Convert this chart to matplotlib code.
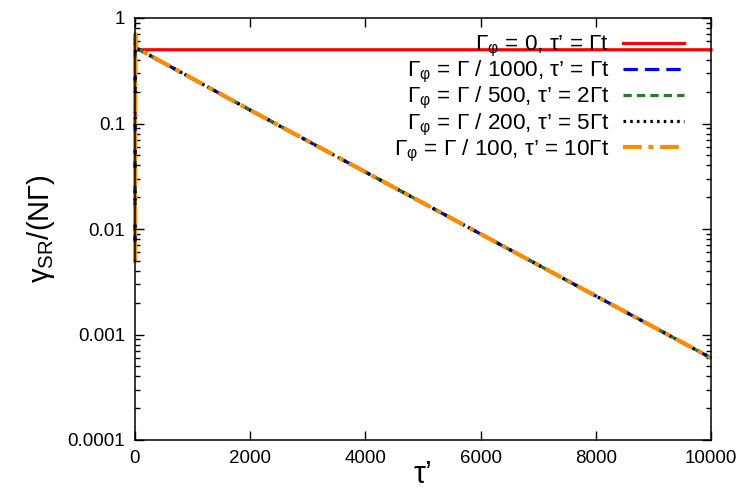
import matplotlib
matplotlib.use('Agg')
import matplotlib.pyplot as plt
from matplotlib.ticker import LogLocator, NullLocator, FixedLocator, FixedFormatter, NullFormatter

plt.rcParams['font.family'] = ['Liberation Sans', 'DejaVu Sans']
plt.rcParams['mathtext.fontset'] = 'custom'
plt.rcParams['mathtext.rm'] = 'Liberation Sans'
plt.rcParams['mathtext.it'] = 'Liberation Sans'
plt.rcParams['mathtext.default'] = 'regular'

# ---- data ----
tau_red = [0, 5, 20, 10000]
gamma_red = [0.005, 0.7, 0.5, 0.5]

tau_decay = [0, 5, 20, 2000, 4000, 6000, 8000, 10000]
gamma_blue = [0.005, 0.7, 0.52, 0.134, 0.0347, 0.00897, 0.00232, 0.0006]
gamma_green = [0.005, 0.7, 0.52, 0.134, 0.0347, 0.00897, 0.00232, 0.0006]
gamma_black = [0.005, 0.7, 0.52, 0.134, 0.0347, 0.00897, 0.00232, 0.0006]
gamma_orange = [0.005, 0.7, 0.52, 0.134, 0.0347, 0.00897, 0.00232, 0.0006]

labels = [
    "Γ$_{φ}$ = 0, τ’ = Γt",
    "Γ$_{φ}$ = Γ / 1000, τ’ = Γt",
    "Γ$_{φ}$ = Γ / 500, τ’ = 2Γt",
    "Γ$_{φ}$ = Γ / 200, τ’ = 5Γt",
    "Γ$_{φ}$ = Γ / 100, τ’ = 10Γt",
]
xticks = [0, 2000, 4000, 6000, 8000, 10000]
yticks = [0.0001, 0.001, 0.01, 0.1, 1]
yticklabels = ["0.0001", "0.001", "0.01", "0.1", "1"]

# ---- figure ----
fig = plt.figure(figsize=(7.47, 4.96), dpi=100)
ax = fig.add_axes([135/747, 1-440/496, (711-135)/747, (440-18)/496])

ax.plot(tau_red, gamma_red, color='#ff0000', lw=2.3, ls='-', label=labels[0], clip_on=False)
ax.plot(tau_decay, gamma_blue, color='#0000ff', lw=2.3, ls=(0, (4.5, 2.2)), label=labels[1], clip_on=False)
ax.plot(tau_decay, gamma_green, color='#2b7a2b', lw=2.3, ls=(0, (2.6, 1.6)), label=labels[2], clip_on=False)
ax.plot(tau_decay, gamma_black, color='#000000', lw=2.3, ls=(0, (0.8, 1.3)), label=labels[3], clip_on=False)
ax.plot(tau_decay, gamma_orange, color='#ff8c00', lw=3.0, ls=(0, (4.5, 1.6, 1.2, 1.6)), label=labels[4], clip_on=False)

ax.set_yscale('log')
ax.set_xlim(0, 10000)
ax.set_ylim(1e-4, 1)

ax.xaxis.set_major_locator(FixedLocator(xticks))
ax.xaxis.set_minor_locator(NullLocator())
ax.yaxis.set_major_locator(FixedLocator(yticks))
ax.yaxis.set_major_formatter(FixedFormatter(yticklabels))
ax.yaxis.set_minor_locator(LogLocator(base=10, subs=range(2, 10)))
ax.yaxis.set_minor_formatter(NullFormatter())

ax.tick_params(which='both', direction='in', top=True, right=True, labelsize=13.5, width=1.0)
ax.tick_params(which='major', length=6.5, pad=7)
ax.tick_params(which='minor', length=3.5)
for s in ax.spines.values():
    s.set_linewidth(1.1)

ax.set_xlabel("τ’", fontsize=22, labelpad=-5)
ax.set_ylabel("γ$_{SR}$/(NΓ)", fontsize=21, labelpad=8)

leg = ax.legend(loc='upper right', bbox_to_anchor=(0.968, 0.983), frameon=False,
                markerfirst=False, fontsize=16.2, handlelength=2.7,
                handletextpad=0.6, labelspacing=0.0, borderaxespad=0)
for col in leg._legend_handle_box.get_children():
    col.align = 'right'

fig.savefig('out.png', dpi=100)
